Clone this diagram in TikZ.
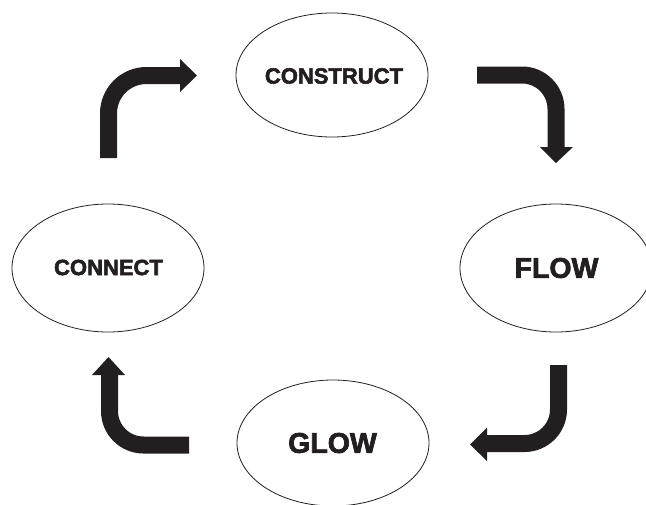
\documentclass[tikz,border=0pt]{standalone}
\usepackage{fontspec}
\newfontfamily\heavy{Liberation Sans}[UprightFont={* Bold}, FakeBold=2.5]
\usetikzlibrary{shapes.geometric}
\definecolor{ink}{HTML}{231F20}
\tikzset{
  stage/.style={draw=ink, line width=0.8pt, ellipse, inner sep=0pt,
    minimum width=192pt, text=ink},
  small/.style={font=\heavy\fontsize{22}{24}\selectfont},
  big/.style={font=\heavy\fontsize{28.5}{30}\selectfont},
  shaft/.style={draw=ink, line width=17pt, line cap=butt},
  head/.style={fill=ink}
}
\begin{document}
\begin{tikzpicture}[x=1pt,y=-1pt]
\useasboundingbox (0,0) rectangle (646,504);
\clip (0,0) rectangle (646,504);
\node[stage, small, minimum height=124pt] (construct) at (332,75) {};
\node[small, text=ink] (tconstruct) at (334,76) {CONSTRUCT};
\node[stage, small, minimum height=128pt] (connect) at (108,268) {};
\node[small, text=ink] (tconnect) at (108.5,267.5) {CONNECT};
\node[stage, big, minimum height=128pt] (flow) at (556,268) {};
\node[big, text=ink] (tflow) at (556.5,268) {FLOW};
\node[stage, big, minimum height=126pt] (glow) at (333,443) {};
\node[big, text=ink] (tglow) at (332.5,443) {GLOW};
% arrow 1: connect -> construct
\coordinate (a1s) at (108.5,158);
\coordinate (a1e) at (181,75.5);
\draw[shaft, rounded corners=38pt] (a1s) |- (a1e);
\fill[head] (180,59) -- (197,75.5) -- (180,92) -- cycle;
% arrow 2: construct -> flow
\coordinate (a2s) at (477,75);
\coordinate (a2e) at (556,148);
\draw[shaft, rounded corners=34pt] (a2s) -| (a2e);
\fill[head] (540,147) -- (556,163) -- (573,147) -- cycle;
% arrow 3: flow -> glow
\coordinate (a3s) at (558.5,365);
\coordinate (a3e) at (486,443.5);
\draw[shaft, rounded corners=34pt] (a3s) |- (a3e);
\fill[head] (487,427.5) -- (470,444.5) -- (487,461) -- cycle;
% arrow 4: glow -> connect
\coordinate (a4s) at (189,445);
\coordinate (a4e) at (109.5,374);
\draw[shaft, rounded corners=34pt] (a4s) -| (a4e);
\fill[head] (92,375) -- (108.5,357) -- (125,375) -- cycle;
\end{tikzpicture}
\end{document}
